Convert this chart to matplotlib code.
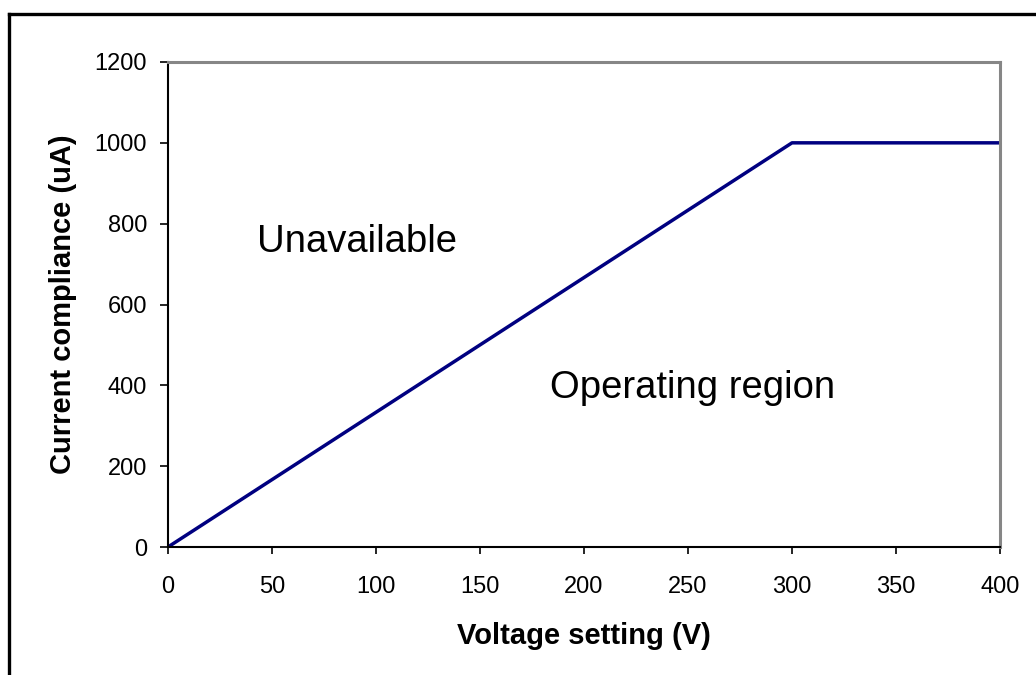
import matplotlib
matplotlib.use('Agg')
import matplotlib.pyplot as plt
from matplotlib.lines import Line2D

# data
voltage = [0, 300, 400]
compliance = [0, 1000, 1000]
x_ticks = [0, 50, 100, 150, 200, 250, 300, 350, 400]
y_ticks = [0, 200, 400, 600, 800, 1000, 1200]
region_labels = ['Unavailable', 'Operating region']
region_pos = [(91, 755), (252, 393)]

plt.rcParams['font.family'] = ['Liberation Sans', 'DejaVu Sans']

fig = plt.figure(figsize=(10.36, 6.75), dpi=100)
ax = fig.add_axes([168 / 1036, 1 - 547 / 675, 832 / 1036, 485 / 675])

ax.plot(voltage, compliance, color='#000080', lw=2.5, solid_capstyle='butt')

ax.set_xlim(0, 400)
ax.set_ylim(0, 1200)
ax.set_xticks(x_ticks)
ax.set_yticks(y_ticks)
ax.tick_params(axis='both', direction='out', labelsize=17, width=1.2, color='black')
ax.tick_params(axis='x', length=5, pad=16)
ax.tick_params(axis='y', length=6, pad=9)

for side in ['left', 'bottom']:
    ax.spines[side].set_color('black')
    ax.spines[side].set_linewidth(1.5)
for side in ['top', 'right']:
    ax.spines[side].set_color('#868686')
    ax.spines[side].set_linewidth(2.2)

ax.set_xlabel('Voltage setting (V)', fontsize=21, fontweight='bold', labelpad=17)
ax.set_ylabel('Current compliance (uA)', fontsize=21, fontweight='bold', labelpad=13)

for txt, (px, py) in zip(region_labels, region_pos):
    ax.text(px, py, txt, fontsize=27.5, ha='center', va='center')

# outer chart frame (only left and top edges visible in the crop)
fig.add_artist(Line2D([9 / 1036, 9 / 1036], [0, 1 - 14 / 675], transform=fig.transFigure,
                      color='black', lw=2.4, solid_capstyle='projecting'))
fig.add_artist(Line2D([9 / 1036, 1], [1 - 14 / 675, 1 - 14 / 675], transform=fig.transFigure,
                      color='black', lw=2.4, solid_capstyle='projecting'))

fig.savefig('out.png', dpi=100)
